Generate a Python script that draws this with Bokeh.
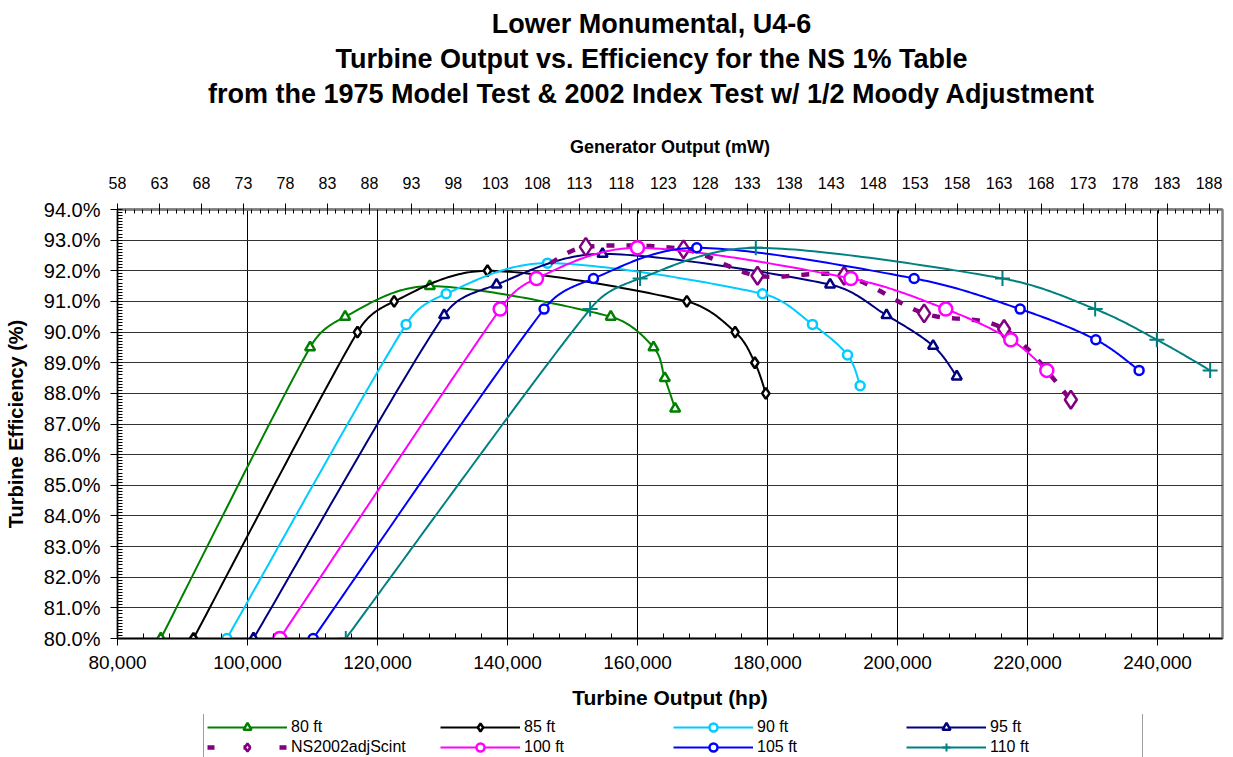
import numpy as np
from bokeh.plotting import figure
from bokeh.layouts import column
from bokeh.models import (Range1d, LinearAxis, SingleIntervalTicker, FixedTicker,
                          PrintfTickFormatter, NumeralTickFormatter, Legend, LegendItem)
from bokeh.core.properties import value
from bokeh.embed import file_html
from bokeh.resources import INLINE

# Turbine output (hp) vs. turbine efficiency (%) for each head
hp_80 = [86660, 109630, 115020, 128050, 155890, 162460, 164200, 165790]
eff_80 = [80.0, 89.5, 90.5, 91.5, 90.5, 89.5, 88.5, 87.5]
hp_85 = [91690, 116920, 122560, 136920, 167590, 175020, 178050, 179740]
eff_85 = [80.0, 90.0, 91.0, 92.0, 91.0, 90.0, 89.0, 88.0]
hp_90 = [96820, 124400, 130560, 146150, 179230, 186920, 192310, 194250]
eff_90 = [80.0, 90.25, 91.25, 92.25, 91.25, 90.25, 89.25, 88.25]
hp_95 = [100920, 130250, 138310, 154620, 189630, 198310, 205480, 209120]
eff_95 = [80.0, 90.55, 91.55, 92.55, 91.55, 90.55, 89.55, 88.55]
# 2002 index test curve; its first point carries no marker
hp_ns = [146600, 152050, 167080, 178460, 191790, 204100, 216400, 226670]
eff_ns = [92.25, 92.78, 92.70, 91.84, 91.84, 90.61, 90.10, 87.79]
hp_100 = [104970, 138870, 144460, 160000, 192820, 207430, 217430, 222970]
eff_100 = [80.0, 90.75, 91.75, 92.75, 91.75, 90.75, 89.75, 88.75]
hp_105 = [110100, 145630, 153230, 169120, 202560, 218870, 230510, 237170]
eff_105 = [80.0, 90.75, 91.75, 92.75, 91.75, 90.75, 89.75, 88.75]
hp_110 = [115120, 152710, 160400, 178200, 216150, 230410, 239900, 248100]
eff_110 = [80.0, 90.75, 91.75, 92.75, 91.75, 90.75, 89.75, 88.75]

series_names = ["80 ft", "85 ft", "90 ft", "95 ft", "NS2002adjScint", "100 ft", "105 ft", "110 ft"]

# Generator output tick labels (mW) on the secondary axis
gen_ticks = [58, 63, 68, 73, 78, 83, 88, 93, 98, 103, 108, 113, 118, 123, 128,
             133, 138, 143, 148, 153, 158, 163, 168, 173, 178, 183, 188]

title_lines = ["Lower Monumental, U4-6",
               "Turbine Output vs. Efficiency for the NS 1% Table",
               "from the 1975 Model Test & 2002 Index Test w/ 1/2 Moody Adjustment"]

FONT = "Liberation Sans"
W = 1233
H_TITLE, H_MAIN, H_LEG = 130, 584, 43
FL, FR = 117, 1222          # frame left / right on the canvas
FT, FB = 79, 508            # frame top / bottom inside the main figure
X0, X1, Y0, Y1 = 80000, 250000, 80, 94
KX = (FR - FL) / (X1 - X0)
KY = (FB - FT) / (Y1 - Y0)


def smooth(xs, ys, n=40):
    """Smoothed Bezier path through the points, built in pixel proportions."""
    P = np.column_stack([(np.asarray(xs, float) - X0) * KX,
                         (np.asarray(ys, float) - Y0) * KY])
    out = [P[0]]
    t = np.linspace(0, 1, n)[1:]
    for i in range(len(P) - 1):
        p0 = P[i - 1] if i > 0 else P[i]
        p1, p2 = P[i], P[i + 1]
        p3 = P[i + 2] if i + 2 < len(P) else P[i + 1]
        seg = np.linalg.norm(p2 - p1)
        a1 = (p2 - p0) / 6.0
        a2 = (p3 - p1) / 6.0
        lim = 0.4 * seg
        for a in (a1, a2):
            na = np.linalg.norm(a)
            if na > lim:
                a *= lim / na
        c1 = p1 + a1
        c2 = p2 - a2
        b = (((1 - t) ** 3)[:, None] * p1 + (3 * (1 - t) ** 2 * t)[:, None] * c1
             + (3 * (1 - t) * t ** 2)[:, None] * c2 + (t ** 3)[:, None] * p2)
        out.extend(b)
    a = np.array(out)
    return a[:, 0] / KX + X0, a[:, 1] / KY + Y0


def strip(height):
    # a bare strip whose x coordinates run in canvas pixels (its frame lines up
    # with the chart frame inside the column layout)
    f = figure(width=W, height=height, output_backend="svg", toolbar_location=None,
               x_range=Range1d(FL, FR), y_range=Range1d(height, 0),
               x_axis_location=None, y_axis_location=None, title=None,
               min_border=0, min_border_left=FL, min_border_right=W - FR,
               min_border_top=0, min_border_bottom=0,
               background_fill_color="white", border_fill_color="white")
    f.outline_line_color = None
    f.xgrid.visible = False
    f.ygrid.visible = False
    return f


# ---- title block ----
tf = strip(H_TITLE)
tf.text(x=[651, 651, 651], y=[23, 58, 93], text=title_lines,
        text_align="center", text_baseline="middle", text_color="black",
        text_font=value(FONT), text_font_size="27px", text_font_style="bold")

# ---- main chart ----
p = figure(width=W, height=H_MAIN, output_backend="svg", toolbar_location=None, title=None,
           x_range=Range1d(X0, X1), y_range=Range1d(Y0, Y1),
           min_border_left=FL, min_border_right=W - FR,
           min_border_top=FT, min_border_bottom=H_MAIN - FB,
           background_fill_color="white", border_fill_color="white")
p.outline_line_color = "#808080"
p.outline_line_width = 2.5

xa = p.xaxis[0]
xa.ticker = SingleIntervalTicker(interval=20000, num_minor_ticks=5)
xa.formatter = NumeralTickFormatter(format="0,0")
xa.axis_line_color = "black"
xa.axis_line_width = 1.5
xa.major_tick_out = 7
xa.major_tick_in = 0
xa.minor_tick_in = 5
xa.minor_tick_out = 0
xa.major_label_standoff = 10
xa.major_label_text_font = FONT
xa.major_label_text_font_size = "19px"
xa.major_label_text_color = "black"
xa.axis_label = "Turbine Output (hp)"
xa.axis_label_standoff = 14
xa.axis_label_text_font = FONT
xa.axis_label_text_font_size = "21px"
xa.axis_label_text_font_style = "bold"
xa.axis_label_text_color = "black"

ya = p.yaxis[0]
ya.ticker = SingleIntervalTicker(interval=1, num_minor_ticks=10)
ya.formatter = PrintfTickFormatter(format="%.1f%%")
ya.axis_line_color = "black"
ya.axis_line_width = 1
ya.major_tick_out = 7
ya.major_tick_in = 0
ya.minor_tick_in = 5
ya.minor_tick_out = 0
ya.major_label_standoff = 10
ya.major_label_text_font = FONT
ya.major_label_text_font_size = "20px"
ya.major_label_text_color = "black"
ya.axis_label = "Turbine Efficiency (%)"
ya.axis_label_standoff = 14
ya.axis_label_text_font = FONT
ya.axis_label_text_font_size = "20px"
ya.axis_label_text_font_style = "bold"
ya.axis_label_text_color = "black"

p.extra_x_ranges = {"gen": Range1d(58, 189.6)}
top = LinearAxis(x_range_name="gen",
                 ticker=FixedTicker(ticks=gen_ticks, minor_ticks=list(range(58, 190))),
                 major_label_overrides={t: str(t) for t in gen_ticks})
top.axis_line_color = "#808080"
top.axis_line_width = 2.5
top.major_tick_out = 6
top.major_tick_in = 5
top.major_tick_line_color = "black"
top.minor_tick_in = 4
top.minor_tick_out = 0
top.minor_tick_line_color = "black"
top.major_label_standoff = 15
top.major_label_text_font = FONT
top.major_label_text_font_size = "16px"
top.major_label_text_color = "black"
top.axis_label = "Generator Output (mW)"
top.axis_label_standoff = 17
top.axis_label_text_font = FONT
top.axis_label_text_font_size = "18px"
top.axis_label_text_font_style = "bold"
top.axis_label_text_color = "black"
p.add_layout(top, "above")

p.xgrid.ticker = SingleIntervalTicker(interval=20000)
p.xgrid.grid_line_color = "black"
p.xgrid.grid_line_width = 1
p.ygrid.ticker = SingleIntervalTicker(interval=1)
p.ygrid.grid_line_color = "#333333"
p.ygrid.grid_line_width = 1.2

styles = [
    dict(x=hp_80, y=eff_80, color="#008000", marker="triangle", size=10, dash="solid", lw=2, first=0),
    dict(x=hp_85, y=eff_85, color="#000000", marker="diamond", size=11, dash="solid", lw=2, first=0),
    dict(x=hp_90, y=eff_90, color="#00CCFF", marker="circle", size=9, dash="solid", lw=2, first=0),
    dict(x=hp_95, y=eff_95, color="#000080", marker="triangle", size=10, dash="solid", lw=2, first=0),
    dict(x=hp_ns, y=eff_ns, color="#800080", marker="diamond", size=18, dash="8 12", lw=4.5, first=1),
    dict(x=hp_100, y=eff_100, color="#FF00FF", marker="circle", size=13, dash="solid", lw=2, first=0),
    dict(x=hp_105, y=eff_105, color="#0000FF", marker="circle", size=9, dash="solid", lw=2, first=0),
    dict(x=hp_110, y=eff_110, color="#008080", marker="cross", size=15, dash="solid", lw=2, first=0),
]

for s in styles:
    sx, sy = smooth(s["x"], s["y"])
    p.line(sx, sy, line_color=s["color"], line_width=s["lw"], line_dash=s["dash"])
    k = s["first"]
    p.scatter(s["x"][k:], s["y"][k:], marker=s["marker"], size=s["size"],
              line_color=s["color"], fill_color="white",
              line_width=2.5 if s["marker"] != "cross" else 2)

# ---- legend strip ----
# the strip's renderers carry the series only to give the legend its swatches;
# the data lie outside the strip's ranges, so only the legend shows
lf = strip(H_LEG)
items = []
for name, s in zip(series_names, styles):
    dash = "7 29" if s["dash"] != "solid" else "solid"
    lr = lf.line(s["x"], s["y"], line_color=s["color"], line_width=s["lw"], line_dash=dash)
    mr = lf.scatter(s["x"], s["y"], marker=s["marker"], size=s["size"],
                    line_color=s["color"], fill_color="white",
                    line_width=2.5 if s["marker"] != "cross" else 2)
    items.append(LegendItem(label=name, renderers=[lr, mr]))

legend = Legend(items=items, orientation="horizontal", ncols=4,
                location=(203 - FL, H_LEG - 47), margin=0, padding=3, spacing=0,
                glyph_width=80, glyph_height=20, label_height=20, label_width=149,
                label_standoff=4, label_text_font=FONT, label_text_font_size="16px",
                label_text_color="black", border_line_color="#404040",
                border_line_width=1, background_fill_color="white", background_fill_alpha=1)
lf.add_layout(legend)

page = column(tf, p, lf, spacing=0)
open("out.html", "w").write(file_html(page, INLINE))
